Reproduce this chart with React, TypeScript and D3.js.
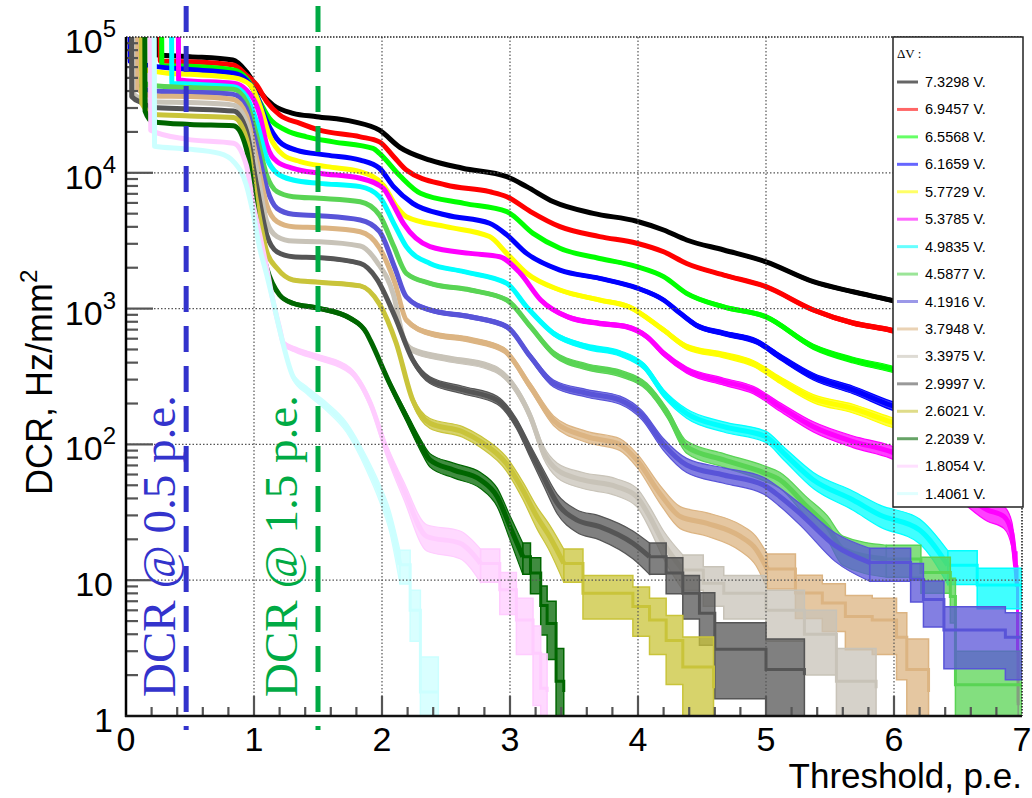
import React from "react";
import * as d3 from "d3";

// dark count rate vs threshold, one curve per overvoltage
const voltages = [
  "7.3298", "6.9457", "6.5568", "6.1659", "5.7729", "5.3785", "4.9835", "4.5877",
  "4.1916", "3.7948", "3.3975", "2.9997", "2.6021", "2.2039", "1.8054", "1.4061",
];

const c7_3298: [number, number][] = [
  [0.233, 2e5], [0.236, 74000], [0.5, 71600], [0.835, 67600], [0.94, 55600], [1.045, 39500],
  [1.15, 31500], [1.305, 27400], [1.49, 25900], [1.775, 23800], [1.98, 20600], [2.14, 15400],
  [2.375, 12400], [2.63, 10800], [2.975, 9370], [3.13, 7910], [3.34, 6120], [3.65, 5030],
  [3.99, 4400], [4.2, 3790], [4.38, 3200], [4.67, 2700], [5.0, 2210], [5.37, 1578],
  [5.68, 1330], [5.97, 1157], [6.5, 850], [7.0, 607],
];
const c6_9457: [number, number][] = [
  [0.265, 2e5], [0.268, 66500], [0.5, 65700], [0.84, 62200], [0.94, 52500], [1.02, 44400],
  [1.1, 33400], [1.2, 26700], [1.36, 23100], [1.51, 20600], [1.83, 18400], [1.98, 16900],
  [2.09, 13200], [2.19, 10500], [2.5, 8130], [2.84, 7260], [2.975, 6670], [3.16, 5180],
  [3.39, 4010], [3.7, 3390], [3.99, 3030], [4.2, 2620], [4.38, 2150], [4.67, 1767],
  [5.0, 1450], [5.37, 977], [5.68, 783], [5.97, 695], [6.5, 480], [7.0, 336],
];
const c6_5568: [number, number][] = [
  [0.277, 2e5], [0.28, 61500], [0.5, 60900], [0.84, 57100], [0.94, 49700], [1.045, 33400],
  [1.12, 25200], [1.25, 20600], [1.41, 18400], [1.62, 16900], [1.93, 15100], [1.98, 13900],
  [2.14, 9500], [2.3, 7070], [2.64, 5960], [2.975, 5180], [3.18, 3580], [3.39, 2780],
  [3.7, 2340], [3.99, 2040], [4.2, 1720], [4.38, 1295], [4.67, 1030], [5.0, 870],
  [5.37, 524], [5.68, 418], [5.97, 362], [6.5, 250], [7.0, 173],
];
const c6_1659: [number, number][] = [
  [0.03, 2e5], [0.033, 66000], [0.24, 60500], [0.47, 57800], [0.84, 54100], [0.94, 48200],
  [1.02, 37400], [1.1, 23800], [1.2, 16900], [1.33, 14700], [1.57, 13500], [1.83, 12400],
  [1.98, 10800], [2.09, 7910], [2.24, 5960], [2.5, 4890], [2.84, 4250], [2.975, 3490],
  [3.13, 2550], [3.39, 1920], [3.7, 1670], [3.99, 1420], [4.2, 1157], [4.33, 923],
  [4.45, 760], [4.67, 657], [4.93, 570], [5.11, 442], [5.37, 316], [5.68, 252],
  [5.97, 195], [6.5, 140], [7.0, 100],
];
const c5_7729: [number, number][] = [
  [0.093, 2e5], [0.096, 58900], [0.34, 54100], [0.5, 53100], [0.84, 50200], [0.97, 44400],
  [1.045, 31500], [1.12, 18900], [1.23, 13500], [1.36, 12100], [1.57, 11100], [1.83, 10200],
  [2.01, 8130], [2.11, 5700], [2.19, 4750], [2.5, 4010], [2.84, 3390], [2.975, 2550],
  [3.13, 1820], [3.39, 1370], [3.7, 1157], [3.93, 1030], [4.2, 695], [4.38, 524],
  [4.67, 455], [4.9, 395], [5.11, 298], [5.37, 218], [5.68, 184], [5.97, 147],
  [6.5, 110], [7.0, 80],
];
const c5_3785: [number, number][] = [
  [0.408, 2e5], [0.411, 48200], [0.5, 47500], [0.84, 45700], [0.94, 40800], [1.045, 26700],
  [1.1, 16000], [1.18, 12100], [1.305, 10800], [1.51, 9920], [1.83, 9110], [2.01, 7690],
  [2.08, 6000], [2.17, 4200], [2.375, 2860], [2.69, 2550], [2.92, 2410], [3.08, 1820],
  [3.24, 1157], [3.45, 870], [3.7, 778], [3.91, 736], [4.07, 621], [4.2, 468],
  [4.38, 353], [4.67, 290], [4.9, 252], [5.11, 189], [5.37, 135], [5.68, 105],
  [5.97, 88.7], [6.4, 55], [6.73, 32.9], [6.86, 29.4], [6.92, 22.3], [6.95, 12.6],
  [6.96, 9.5], [6.965, 3], [6.97, 1.2],
];
const c4_9835: [number, number][] = [
  [0.355, 2e5], [0.358, 45700], [0.5, 45000], [0.84, 43100], [0.94, 36400], [1.02, 23800],
  [1.1, 12800], [1.18, 9920], [1.305, 8850], [1.51, 8360], [1.83, 7910], [1.98, 6670],
  [2.1, 4100], [2.19, 2860], [2.375, 2150], [2.64, 1870], [2.975, 1535], [3.13, 1030],
  [3.34, 657], [3.6, 524], [3.86, 468], [4.05, 373], [4.2, 238], [4.38, 169],
  [4.67, 135], [5.0, 114], [5.14, 86], [5.37, 54.7], [5.68, 39], [5.89, 30.2],
  [6.2, 23.4], [6.42, 12.9], [6.65, 9.2], [7.0, 8.2],
];
const c4_5877: [number, number][] = [
  [0.055, 2e5], [0.058, 52000], [0.21, 43900], [0.5, 42400], [0.84, 41200], [0.94, 33400],
  [1.02, 18900], [1.1, 9550], [1.18, 7260], [1.305, 6670], [1.51, 6490], [1.83, 6120],
  [1.98, 4890], [2.09, 2900], [2.19, 1820], [2.375, 1535], [2.69, 1370], [2.975, 1157],
  [3.16, 736], [3.34, 468], [3.6, 373], [3.86, 334], [4.07, 266], [4.23, 169],
  [4.38, 96], [4.67, 76.8], [4.98, 62], [5.11, 54.7], [5.32, 34.8], [5.48, 24.8],
  [5.6, 17], [5.94, 14.3], [6.21, 11.4], [6.44, 7.6], [6.48, 1.7], [7.0, 1.6],
];
const c4_1916: [number, number][] = [
  [0.068, 2e5], [0.071, 45700], [0.21, 40000], [0.5, 39200], [0.84, 37800], [0.94, 29800],
  [1.02, 16000], [1.1, 7690], [1.18, 5470], [1.305, 4950], [1.51, 4830], [1.83, 4490],
  [1.98, 3700], [2.1, 2000], [2.19, 1220], [2.375, 977], [2.69, 870], [2.975, 736],
  [3.16, 442], [3.34, 281], [3.6, 238], [3.86, 212], [4.03, 165], [4.2, 100],
  [4.38, 70.5], [4.67, 59.5], [4.98, 50.2], [5.11, 41.2], [5.28, 30.2], [5.54, 18],
  [5.81, 13.5], [6.13, 10.1], [6.23, 7.2], [6.39, 4.3], [6.87, 3.8], [7.0, 3.8],
];
const c3_7948: [number, number][] = [
  [0.081, 2e5], [0.084, 41900], [0.21, 36700], [0.5, 36400], [0.84, 34700], [0.94, 26700],
  [1.02, 12800], [1.1, 5790], [1.18, 4370], [1.305, 4010], [1.51, 3940], [1.83, 3680],
  [1.98, 2800], [2.1, 1550], [2.19, 824], [2.375, 657], [2.69, 589], [2.95, 496],
  [3.16, 266], [3.34, 150], [3.6, 114], [3.86, 100], [4.0, 75], [4.17, 43.6],
  [4.33, 29.4], [4.54, 26.2], [4.8, 21], [4.92, 17], [5.01, 12.1], [5.23, 8.05],
  [5.44, 6.8], [5.62, 5.4], [5.83, 5.1], [6.02, 3.8], [6.1, 2.2], [6.27, 1.5],
];
const c3_3975: [number, number][] = [
  [0.052, 2e5], [0.055, 38000], [0.21, 33400], [0.5, 32900], [0.84, 31500], [0.94, 23800],
  [1.02, 10800], [1.1, 4370], [1.18, 3390], [1.305, 3140], [1.51, 3110], [1.83, 2890],
  [1.96, 2210], [2.09, 1260], [2.17, 600], [2.24, 496], [2.5, 430], [2.84, 373],
  [2.9, 353], [3.05, 252], [3.16, 160], [3.26, 88.7], [3.37, 64.7], [3.57, 54.7],
  [3.83, 48.9], [3.99, 41.2], [4.09, 29.4], [4.2, 18.7], [4.35, 11.9], [4.51, 9.5],
  [4.67, 8.0], [5.0, 6.0], [5.3, 4.0], [5.55, 1.8], [5.86, 1.6],
];
const c2_9997: [number, number][] = [
  [0.042, 2e5], [0.045, 36400], [0.13, 32600], [0.21, 30200], [0.5, 29500], [0.84, 28500],
  [0.94, 20600], [1.02, 8130], [1.1, 3490], [1.18, 2620], [1.305, 2410], [1.51, 2370],
  [1.83, 2150], [1.96, 1650], [2.1, 880], [2.24, 419], [2.375, 298], [2.63, 252],
  [2.9, 212], [3.05, 143], [3.16, 88.7], [3.26, 57.8], [3.37, 36.8], [3.52, 27.8],
  [3.7, 24.8], [3.96, 18.7], [4.09, 14.9], [4.22, 11.3], [4.35, 8], [4.48, 5.7],
  [4.6, 3.1], [5.0, 2.2], [5.3, 2.0],
];
const c2_6021: [number, number][] = [
  [0.12, 2e5], [0.123, 32600], [0.21, 27000], [0.5, 26200], [0.84, 25500], [0.94, 17900],
  [1.02, 6120], [1.1, 2620], [1.18, 1980], [1.305, 1625], [1.51, 1563], [1.83, 1470],
  [1.98, 1080], [2.11, 560], [2.24, 212], [2.375, 143], [2.63, 124], [2.77, 105],
  [2.97, 72.6], [3.1, 46.2], [3.21, 29.4], [3.31, 20.9], [3.42, 13.3], [3.57, 8.0],
  [3.96, 6.4], [4.09, 5.1], [4.22, 3.6], [4.35, 2.3], [4.59, 1.6],
];
const c2_2039: [number, number][] = [
  [0.146, 2e5], [0.149, 28500], [0.21, 23800], [0.5, 22700], [0.84, 22200], [0.94, 15100],
  [1.02, 4370], [1.1, 1980], [1.2, 1260], [1.305, 1095], [1.51, 1005], [1.75, 850],
  [1.88, 660], [1.91, 580], [2.06, 281], [2.19, 160], [2.3, 100], [2.375, 76.8],
  [2.56, 64.7], [2.77, 54.7], [2.9, 41.2], [3.0, 24.8], [3.1, 14.9], [3.16, 11.3],
  [3.24, 6.5], [3.29, 4.8], [3.36, 1.8], [3.42, 1.5],
];
const c1_8054: [number, number][] = [
  [0.19, 2e5], [0.193, 20600], [0.47, 17700], [0.84, 16500], [0.94, 11400], [0.99, 6120],
  [1.045, 3490], [1.1, 1980], [1.15, 1125], [1.2, 715], [1.23, 555], [1.33, 496],
  [1.49, 442], [1.75, 350], [1.91, 200], [2.04, 88.7], [2.17, 46.2], [2.35, 21],
  [2.61, 18.7], [2.77, 13.3], [2.92, 8.5], [3.05, 5.1], [3.18, 2.9], [3.24, 1.6],
  [3.29, 1.5],
];
const c1_4061: [number, number][] = [
  [0.22, 2e5], [0.223, 15700], [0.47, 15000], [0.73, 13900], [0.84, 12100], [0.94, 8130],
  [0.99, 5180], [1.045, 2780], [1.1, 1767], [1.15, 1125], [1.2, 700], [1.305, 316],
  [1.41, 252], [1.57, 189], [1.72, 135], [1.88, 72.6], [1.98, 45], [2.06, 28],
  [2.14, 13], [2.22, 6], [2.3, 1.5], [2.44, 1.5],
];

const curves = [
  c7_3298, c6_9457, c6_5568, c6_1659, c5_7729, c5_3785, c4_9835, c4_5877,
  c4_1916, c3_7948, c3_3975, c2_9997, c2_6021, c2_2039, c1_8054, c1_4061,
];

const colors = [
  "#000000", "#ff0000", "#00ff00", "#0000ff", "#ffff00", "#ff00ff", "#00ffff", "#59d454",
  "#5954d8", "#dcb482", "#c8c3b8", "#555555", "#c9c43a", "#006600", "#ffccff", "#ccffff",
];

const xTicks = [0, 1, 2, 3, 4, 5, 6, 7];
const yTicks = [1, 10, 100, 1000, 10000, 100000];
const yTickLabels: [string, string][] = [
  ["1", ""], ["10", ""], ["10", "2"], ["10", "3"], ["10", "4"], ["10", "5"],
];
const thresholds = [0.47, 1.5];
const thresholdLabels = ["DCR @ 0.5 p.e.", "DCR @ 1.5 p.e."];
const thresholdColors = ["#3333cc", "#00aa44"];

const SANS = "'Liberation Sans', Arial, Helvetica, sans-serif";
const SERIF = "'Liberation Serif', 'Times New Roman', serif";

const L = 126, R = 1022, T = 37, B = 716;
// low-count tails are drawn as histogram steps
const STEP_BELOW = 15;

export default function App() {
  const x = d3.scaleLinear().domain([0, 7]).range([L, R]);
  const y = d3.scaleLog().domain([1, 1e5]).range([B, T]);

  const mkLine = (curve: d3.CurveFactory) =>
    d3.line<[number, number]>().x(d => x(d[0])).y(d => y(d[1])).curve(curve);

  // statistical band, v +- sqrt(v)
  const mkBand = (curve: d3.CurveFactory) =>
    d3
      .area<[number, number]>()
      .x(d => x(d[0]))
      .y0(d => y(Math.max(d[1] - Math.sqrt(d[1]), 0.3)))
      .y1(d => y(d[1] + Math.sqrt(d[1])))
      .curve(curve);

  const smoothLine = mkLine(d3.curveMonotoneX);
  const smoothBand = mkBand(d3.curveMonotoneX);
  const stepLine = mkLine(d3.curveStepAfter);
  const stepBand = mkBand(d3.curveStepAfter);

  const pieces = curves.map(c => {
    const k = c.findIndex((d, i) => i > 1 && d[1] < STEP_BELOW);
    if (k < 0) return { smooth: c, tail: [] as [number, number][] };
    return { smooth: c.slice(0, k + 1), tail: c.slice(k) };
  });

  const minorY: number[] = [];
  for (let e = 0; e < 5; e++) for (let k = 2; k <= 9; k++) minorY.push(k * Math.pow(10, e));
  const minorX: number[] = d3.range(1, 35).map(i => i * 0.2).filter(v => Math.abs(v - Math.round(v)) > 0.01);

  const labelX = [175, 297];
  const legX = 893, legY = 37, legW = 130, legH = 470;

  return (
    <svg width={1032} height={798} style={{ position: "absolute", left: 0, top: 0, background: "#fff" }}>
      <defs>
        <clipPath id="plot">
          <rect x={L} y={T} width={R - L} height={B - T} />
        </clipPath>
      </defs>

      <g clipPath="url(#plot)">
        {pieces.map((p, i) => (
          <g key={voltages[i]}>
            <path d={smoothBand(p.smooth) || ""} fill={colors[i]} fillOpacity={0.75} stroke={colors[i]} strokeWidth={1.2} />
            <path d={smoothLine(p.smooth) || ""} fill="none" stroke={colors[i]} strokeWidth={5} strokeLinejoin="round" />
            {p.tail.length > 1 && (
              <>
                <path d={stepBand(p.tail) || ""} fill={colors[i]} fillOpacity={0.75} stroke={colors[i]} strokeWidth={1.5} />
                <path d={stepLine(p.tail) || ""} fill="none" stroke={colors[i]} strokeWidth={3} />
              </>
            )}
          </g>
        ))}
      </g>

      {/* grid */}
      <g stroke="#555" strokeWidth={1.2} strokeDasharray="1.5 2">
        {xTicks.slice(1, 7).map(t => (
          <line key={"gx" + t} x1={x(t)} x2={x(t)} y1={T} y2={B} />
        ))}
        {yTicks.slice(1, 5).map(t => (
          <line key={"gy" + t} x1={L} x2={R} y1={y(t)} y2={y(t)} />
        ))}
      </g>

      {/* frame */}
      <g stroke="#222" strokeWidth={1.6} strokeDasharray="1.5 1.5">
        <line x1={L} x2={R} y1={T} y2={T} />
        <line x1={R} x2={R} y1={T} y2={B} />
      </g>

      {/* ticks */}
      <g stroke="#555" strokeWidth={2.2}>
        {yTicks.slice(1, 5).map(t => (
          <line key={"ty" + t} x1={L} x2={L + 27} y1={y(t)} y2={y(t)} />
        ))}
        {minorY.map(t => (
          <line key={"my" + t} x1={L} x2={L + 12} y1={y(t)} y2={y(t)} />
        ))}
        {xTicks.slice(1, 7).map(t => (
          <line key={"tx" + t} x1={x(t)} x2={x(t)} y1={B} y2={B - 20} />
        ))}
        {minorX.map(t => (
          <line key={"mx" + t} x1={x(t)} x2={x(t)} y1={B} y2={B - 9} />
        ))}
      </g>
      <line x1={L} x2={L} y1={T} y2={B + 1} stroke="#000" strokeWidth={2.5} />
      <line x1={L - 1} x2={R} y1={B} y2={B} stroke="#111" strokeWidth={2.5} />

      {/* tick labels */}
      <g fontFamily={SANS} fill="#000">
        {yTicks.map((t, i) => (
          <text key={"ly" + t} x={i < 2 ? 113 : 116} y={y(t) + 16} fontSize={34} textAnchor="end">
            {yTickLabels[i][0]}
            {yTickLabels[i][1] && (
              <tspan fontSize={24} dy={-16}>{yTickLabels[i][1]}</tspan>
            )}
          </text>
        ))}
        {xTicks.map(t => (
          <text key={"lx" + t} x={x(t)} y={751} fontSize={34} textAnchor="middle">{t}</text>
        ))}
        <text x={1022} y={788} fontSize={35} textAnchor="end">Threshold, p.e.</text>
        <text transform="translate(52,495) rotate(-90)" fontSize={36}>
          DCR, Hz/mm<tspan fontSize={24} dy={-15}>2</tspan>
        </text>
      </g>

      {/* threshold markers */}
      {thresholds.map((t, i) => (
        <g key={thresholdLabels[i]}>
          <line x1={x(t)} x2={x(t)} y1={6} y2={730} stroke={thresholdColors[i]} strokeWidth={5} strokeDasharray="26 14" />
          <text transform={`translate(${labelX[i]},697) rotate(-90)`} fontFamily={SERIF} fontSize={47} fill={thresholdColors[i]}>
            {thresholdLabels[i]}
          </text>
        </g>
      ))}

      {/* legend */}
      <g>
        <rect x={legX} y={legY} width={legW} height={legH} fill="#fff" stroke="#222" strokeWidth={1.5} />
        <text x={897} y={58} fontFamily={SERIF} fontSize={13} fill="#000">ΔV :</text>
        {voltages.map((v, i) => {
          const cy = 82 + i * 27.44;
          return (
            <g key={"leg" + v}>
              <line x1={897} x2={918} y1={cy} y2={cy} stroke={colors[i]} strokeOpacity={0.6} strokeWidth={3} />
              <text x={925} y={cy + 5} fontFamily={SANS} fontSize={14.5} fill="#000">{v} V.</text>
            </g>
          );
        })}
      </g>
    </svg>
  );
}
